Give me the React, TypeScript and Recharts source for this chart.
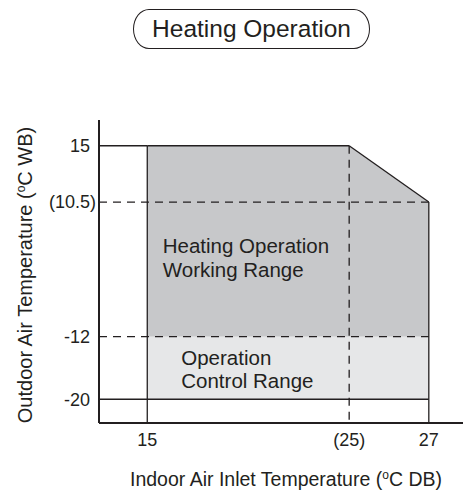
import {
  ComposedChart,
  Area,
  XAxis,
  YAxis,
  ReferenceLine,
  ReferenceArea,
} from "recharts";

const INDOOR_TICKS = [15, 25, 27];
const INDOOR_TICK_LABELS = ["15", "(25)", "27"];
const OUTDOOR_TICKS = [15, 10.5, -12, -20];
const OUTDOOR_TICK_LABELS = ["15", "(10.5)", "-12", "-20"];

// indoor temp break points and the outdoor limits at each one
const INDOOR = [15, 25, 27];
const WORKING_HIGH = [15, 15, 10.5];
const WORKING_LOW = [-12, -12, -12];
const CONTROL_HIGH = [-12, -12, -12];
const CONTROL_LOW = [-20, -20, -20];

// the figure is a schematic, not to scale: every tick gets its own slot
const X_SLOTS = [1.2, 6.22, 8.2];
const Y_SLOTS = [10.98, 8.75, 3.42, 0.94];
const X_DOMAIN: [number, number] = [0, 9.05];
const Y_DOMAIN: [number, number] = [0, 12];

const FONT = '"Liberation Sans", Arial, Helvetica, sans-serif';
const INK = "#231f20";
const DARK = "#c7c8ca";
const LIGHT = "#e6e7e8";

function piecewise(values: number[], slots: number[]) {
  const pts = values.map((v, i) => [v, slots[i]]).sort((a, b) => a[0] - b[0]);
  return (v: number) => {
    let i = 0;
    while (i < pts.length - 2 && v > pts[i + 1][0]) i++;
    const [v0, s0] = pts[i];
    const [v1, s1] = pts[i + 1];
    return s0 + ((v - v0) * (s1 - s0)) / (v1 - v0);
  };
}

const sx = piecewise(INDOOR_TICKS, X_SLOTS);
const sy = piecewise(OUTDOOR_TICKS, Y_SLOTS);

// null = the axis itself
const at = (x: number | null, y: number | null) => ({
  x: x === null ? X_DOMAIN[0] : sx(x),
  y: y === null ? Y_DOMAIN[0] : sy(y),
});

const rows = INDOOR.map((t, i) => ({
  x: sx(t),
  working: [sy(WORKING_LOW[i]), sy(WORKING_HIGH[i])],
  control: [sy(CONTROL_LOW[i]), sy(CONTROL_HIGH[i])],
}));

const last = INDOOR.length - 1;

const SOLID = [
  [at(null, WORKING_HIGH[0]), at(INDOOR[0], WORKING_HIGH[0])],
  [at(INDOOR[0], WORKING_HIGH[0]), at(INDOOR[1], WORKING_HIGH[1])],
  [at(INDOOR[1], WORKING_HIGH[1]), at(INDOOR[last], WORKING_HIGH[last])],
  [at(INDOOR[0], WORKING_HIGH[0]), at(INDOOR[0], null)],
  [at(INDOOR[last], WORKING_HIGH[last]), at(INDOOR[last], null)],
  [at(null, CONTROL_LOW[0]), at(INDOOR[last], CONTROL_LOW[last])],
];

const DASHED = [
  [at(null, WORKING_HIGH[last]), at(INDOOR[last], WORKING_HIGH[last])],
  [at(null, WORKING_LOW[0]), at(INDOOR[last], WORKING_LOW[last])],
  [at(INDOOR[1], WORKING_HIGH[1]), at(INDOOR[1], null)],
];

const xTickValues = INDOOR_TICKS.map(sx);
const yTickValues = OUTDOOR_TICKS.map(sy);

const labelFor = (vals: number[], labels: string[], v: number) => {
  const i = vals.findIndex((t) => Math.abs(t - v) < 1e-6);
  return i < 0 ? "" : labels[i];
};

function YTick(props: any) {
  const { x, y, payload } = props;
  const text = labelFor(yTickValues, OUTDOOR_TICK_LABELS, payload.value);
  // closing bracket hangs past the number column
  const shift = text.endsWith(")") ? 6 : 0;
  return (
    <text x={x + shift} y={y} dy="0.355em" textAnchor="end" fontSize={18} fill={INK} fontFamily={FONT}>
      {text}
    </text>
  );
}

function XTitle() {
  return (
    <text x={286} y={486} textAnchor="middle" fontSize={19.5} fill={INK} fontFamily={FONT}>
      Indoor Air Inlet Temperature (
      <tspan fontSize={12} dy={-7}>o</tspan>
      <tspan dy={7}>C DB)</tspan>
    </text>
  );
}

function YTitle() {
  return (
    <text
      x={31.5}
      y={275}
      transform="rotate(-90 31.5 275)"
      textAnchor="middle"
      fontSize={20}
      fill={INK}
      fontFamily={FONT}
    >
      Outdoor Air Temperature (
      <tspan fontSize={12} dy={-7}>o</tspan>
      <tspan dy={7}>C WB)</tspan>
    </text>
  );
}

function workingLabel(props: any) {
  const { x, y } = props.viewBox;
  return (
    <text fontSize={20.5} fill={INK} fontFamily={FONT}>
      <tspan x={x + 15.5} y={y + 51}>Heating Operation</tspan>
      <tspan x={x + 15.5} y={y + 74.5}>Working Range</tspan>
    </text>
  );
}

function controlLabel(props: any) {
  const { x, y } = props.viewBox;
  return (
    <text fontSize={20.5} fill={INK} fontFamily={FONT}>
      <tspan x={x + 34} y={y + 28.5}>Operation</tspan>
      <tspan x={x + 34} y={y + 51.5}>Control Range</tspan>
    </text>
  );
}

export default function App() {
  return (
    <div
      style={{
        position: "absolute",
        left: 0,
        top: 0,
        width: 463,
        height: 498,
        background: "#fff",
        fontFamily: FONT,
      }}
    >
      <div
        style={{
          position: "absolute",
          left: 133,
          top: 9,
          width: 237,
          height: 40,
          boxSizing: "border-box",
          border: `1.6px solid ${INK}`,
          borderRadius: "16px / 20px",
          display: "flex",
          alignItems: "center",
          justifyContent: "center",
          fontSize: 24.5,
          color: INK,
        }}
      >
        Heating Operation
      </div>
      <ComposedChart
        width={463}
        height={498}
        data={rows}
        margin={{ top: 120, right: 0, bottom: 0, left: 0 }}
      >
        <XAxis
          dataKey="x"
          type="number"
          domain={X_DOMAIN}
          allowDataOverflow
          ticks={xTickValues}
          interval={0}
          tickFormatter={(v: number) => labelFor(xTickValues, INDOOR_TICK_LABELS, v)}
          tickLine={false}
          tickSize={0}
          tickMargin={10}
          axisLine={{ stroke: INK, strokeWidth: 2 }}
          tick={{ fontSize: 18, fill: INK, fontFamily: FONT }}
          height={75}
          label={<XTitle />}
        />
        <YAxis
          type="number"
          domain={Y_DOMAIN}
          allowDataOverflow
          ticks={yTickValues}
          interval={0}
          tickLine={false}
          tickSize={0}
          tickMargin={9}
          axisLine={{ stroke: INK, strokeWidth: 2 }}
          tick={<YTick />}
          width={99}
          label={<YTitle />}
        />
        <Area
          dataKey="working"
          type="linear"
          fill={DARK}
          fillOpacity={1}
          stroke="none"
          isAnimationActive={false}
          activeDot={false}
        />
        <Area
          dataKey="control"
          type="linear"
          fill={LIGHT}
          fillOpacity={1}
          stroke="none"
          isAnimationActive={false}
          activeDot={false}
        />
        <ReferenceArea
          x1={sx(INDOOR[0])}
          x2={sx(INDOOR[last])}
          y1={sy(WORKING_LOW[0])}
          y2={sy(WORKING_HIGH[last])}
          fill="none"
          stroke="none"
          label={workingLabel}
        />
        <ReferenceArea
          x1={sx(INDOOR[0])}
          x2={sx(INDOOR[last])}
          y1={sy(CONTROL_LOW[0])}
          y2={sy(CONTROL_HIGH[0])}
          fill="none"
          stroke="none"
          label={controlLabel}
        />
        {DASHED.map((seg, i) => (
          <ReferenceLine
            key={"d" + i}
            segment={seg}
            stroke={INK}
            strokeWidth={1.3}
            strokeDasharray="8 6"
            ifOverflow="visible"
          />
        ))}
        {SOLID.map((seg, i) => (
          <ReferenceLine
            key={"s" + i}
            segment={seg}
            stroke={INK}
            strokeWidth={1.3}
            ifOverflow="visible"
          />
        ))}
      </ComposedChart>
    </div>
  );
}
